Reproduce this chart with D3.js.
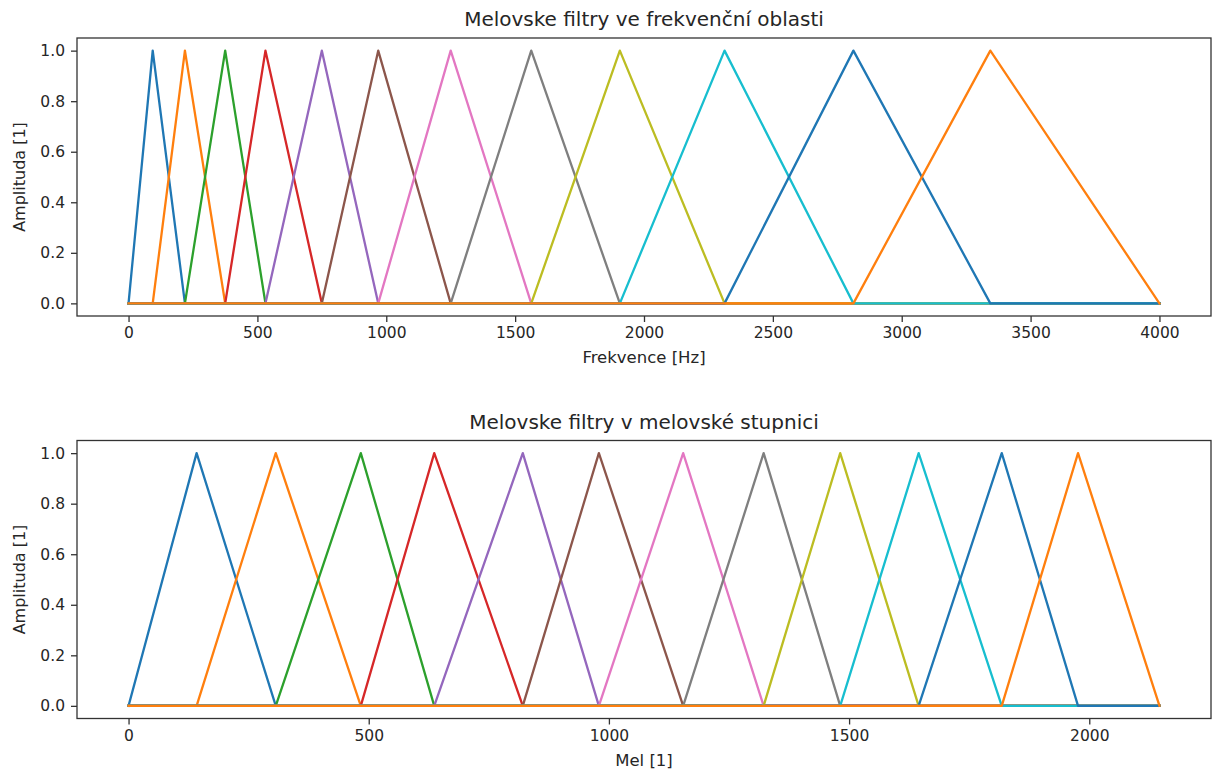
<!DOCTYPE html>
<html><head><meta charset="utf-8">
<script src="https://cdn.jsdelivr.net/npm/d3@7"></script>
<style>
html,body{margin:0;padding:0;background:#fff;}
text{font-family:"DejaVu Sans",sans-serif;fill:#262626;}
</style></head>
<body><svg id="c" width="1213" height="773"></svg>
<script>
// Filter breakpoints (edges / centres)
const freqPoints = [0, 93.75, 218.75, 375, 531.25, 750, 968.75, 1250, 1562.5, 1906.25, 2312.5, 2812.5, 3343.75, 4000];
const melPoints  = [0, 141.7, 306.5, 483.5, 636.4, 820.7, 979.1, 1154.6, 1322.1, 1481.5, 1644.8, 1817.8, 1976.6, 2146.1];
const peakValues = [1, 1, 1, 1, 1, 1, 1, 1, 1, 1, 1, 1];
const freqTicks = [0, 500, 1000, 1500, 2000, 2500, 3000, 3500, 4000];
const melTicks  = [0, 500, 1000, 1500, 2000];
const yTicks    = [0.0, 0.2, 0.4, 0.6, 0.8, 1.0];
const colors = ["#1f77b4","#ff7f0e","#2ca02c","#d62728","#9467bd","#8c564b","#e377c2","#7f7f7f","#bcbd22","#17becf"];

const svg = d3.select("#c");
const fmt = d3.format(".1f");

function panel(cfg) {
  const {pts, ticks, top, bottom, title, xlabel, titleY, xlabelY} = cfg;
  const left = 77, right = 1211;
  const lo = pts[0], hi = pts[pts.length - 1], pad = (hi - lo) * 0.05;
  const x = d3.scaleLinear().domain([lo - pad, hi + pad]).range([left, right]);
  const y = d3.scaleLinear().domain([-0.05, 1.05]).range([bottom, top]);
  const g = svg.append("g");

  // lines
  const line = d3.line().x(d => x(d[0])).y(d => y(d[1]));
  peakValues.forEach((pk, i) => {
    const data = [[lo, 0], [pts[i], 0], [pts[i + 1], pk], [pts[i + 2], 0], [hi, 0]];
    g.append("path").attr("d", line(data)).attr("fill", "none")
      .attr("stroke", colors[i % 10]).attr("stroke-width", 2.3)
      .attr("stroke-linejoin", "round").attr("stroke-linecap", "square");
  });

  // axes
  const xa = g.append("g").attr("transform", `translate(0,${bottom})`)
    .call(d3.axisBottom(x).tickValues(ticks).tickSize(6).tickPadding(5).tickFormat(d3.format("d")));
  const ya = g.append("g").attr("transform", `translate(${left},0)`)
    .call(d3.axisLeft(y).tickValues(yTicks).tickSize(6).tickPadding(6).tickFormat(fmt));
  [xa, ya].forEach(a => {
    a.select(".domain").remove();
    a.selectAll("line").attr("stroke", "#333").attr("stroke-width", 1.3);
    a.selectAll("text").style("font-size", "15.5px").style("font-family", "DejaVu Sans").attr("fill", "#262626");
  });
  g.append("rect").attr("x", left).attr("y", top).attr("width", right - left).attr("height", bottom - top)
    .attr("fill", "none").attr("stroke", "#333").attr("stroke-width", 1.3);

  g.append("text").attr("x", (left + right) / 2).attr("y", titleY).attr("text-anchor", "middle")
    .style("font-size", "20px").text(title);
  g.append("text").attr("x", (left + right) / 2).attr("y", xlabelY).attr("text-anchor", "middle")
    .style("font-size", "16.5px").text(xlabel);
  g.append("text").attr("transform", `translate(25,${(top + bottom) / 2}) rotate(-90)`)
    .attr("text-anchor", "middle").style("font-size", "16px").text("Amplituda [1]");
}

panel({pts: freqPoints, ticks: freqTicks, top: 38, bottom: 316,
  title: "Melovske filtry ve frekvenční oblasti", xlabel: "Frekvence [Hz]", titleY: 26, xlabelY: 363});
panel({pts: melPoints, ticks: melTicks, top: 440.5, bottom: 718.5,
  title: "Melovske filtry v melovské stupnici", xlabel: "Mel [1]", titleY: 429, xlabelY: 766});
</script>
</body></html>
